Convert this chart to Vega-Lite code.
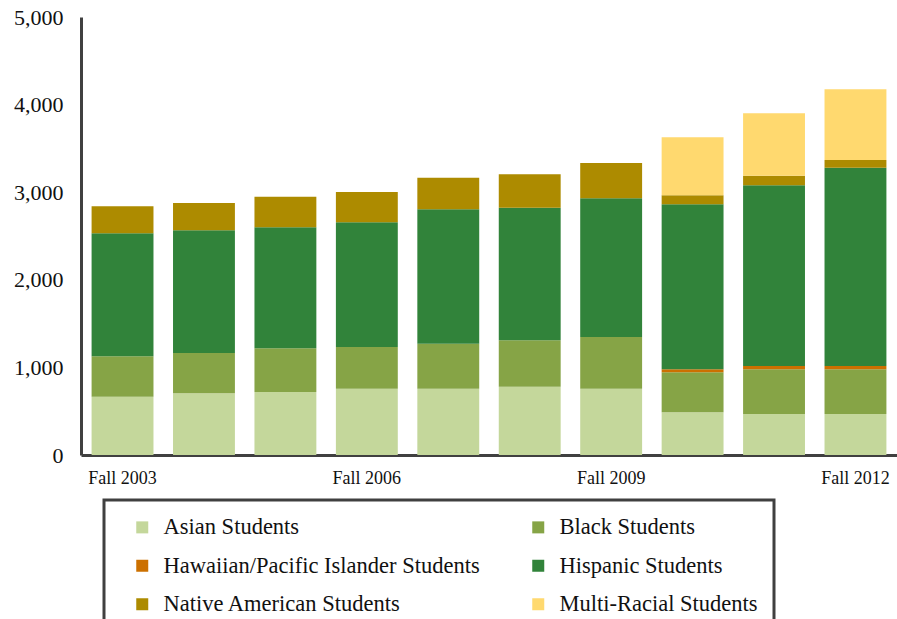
{
  "$schema": "https://vega.github.io/schema/vega-lite/v6.json",
  "autosize": {"type": "none"},
  "padding": {"left": 81, "top": 17, "right": 0, "bottom": 164},
  "width": 816,
  "height": 438,
  "background": "#ffffff",
  "config": {
    "view": {"stroke": null},
    "font": "Liberation Serif"
  },
  "data": {
    "values": [
      {"year": "Fall 2003", "group": "Asian Students", "students": 665},
      {"year": "Fall 2003", "group": "Black Students", "students": 462},
      {"year": "Fall 2003", "group": "Hispanic Students", "students": 1404},
      {"year": "Fall 2003", "group": "Native American Students", "students": 308},
      {"year": "Fall 2004", "group": "Asian Students", "students": 704},
      {"year": "Fall 2004", "group": "Black Students", "students": 460},
      {"year": "Fall 2004", "group": "Hispanic Students", "students": 1401},
      {"year": "Fall 2004", "group": "Native American Students", "students": 312},
      {"year": "Fall 2005", "group": "Asian Students", "students": 719},
      {"year": "Fall 2005", "group": "Black Students", "students": 499},
      {"year": "Fall 2005", "group": "Hispanic Students", "students": 1381},
      {"year": "Fall 2005", "group": "Native American Students", "students": 350},
      {"year": "Fall 2006", "group": "Asian Students", "students": 757},
      {"year": "Fall 2006", "group": "Black Students", "students": 476},
      {"year": "Fall 2006", "group": "Hispanic Students", "students": 1423},
      {"year": "Fall 2006", "group": "Native American Students", "students": 346},
      {"year": "Fall 2007", "group": "Asian Students", "students": 757},
      {"year": "Fall 2007", "group": "Black Students", "students": 514},
      {"year": "Fall 2007", "group": "Hispanic Students", "students": 1534},
      {"year": "Fall 2007", "group": "Native American Students", "students": 361},
      {"year": "Fall 2008", "group": "Asian Students", "students": 780},
      {"year": "Fall 2008", "group": "Black Students", "students": 529},
      {"year": "Fall 2008", "group": "Hispanic Students", "students": 1514},
      {"year": "Fall 2008", "group": "Native American Students", "students": 381},
      {"year": "Fall 2009", "group": "Asian Students", "students": 757},
      {"year": "Fall 2009", "group": "Black Students", "students": 590},
      {"year": "Fall 2009", "group": "Hispanic Students", "students": 1583},
      {"year": "Fall 2009", "group": "Native American Students", "students": 403},
      {"year": "Fall 2010", "group": "Asian Students", "students": 487},
      {"year": "Fall 2010", "group": "Black Students", "students": 457},
      {"year": "Fall 2010", "group": "Hawaiian/Pacific Islander Students", "students": 34},
      {"year": "Fall 2010", "group": "Hispanic Students", "students": 1884},
      {"year": "Fall 2010", "group": "Native American Students", "students": 102},
      {"year": "Fall 2010", "group": "Multi-Racial Students", "students": 662},
      {"year": "Fall 2011", "group": "Asian Students", "students": 468},
      {"year": "Fall 2011", "group": "Black Students", "students": 510},
      {"year": "Fall 2011", "group": "Hawaiian/Pacific Islander Students", "students": 38},
      {"year": "Fall 2011", "group": "Hispanic Students", "students": 2062},
      {"year": "Fall 2011", "group": "Native American Students", "students": 111},
      {"year": "Fall 2011", "group": "Multi-Racial Students", "students": 711},
      {"year": "Fall 2012", "group": "Asian Students", "students": 468},
      {"year": "Fall 2012", "group": "Black Students", "students": 510},
      {"year": "Fall 2012", "group": "Hawaiian/Pacific Islander Students", "students": 38},
      {"year": "Fall 2012", "group": "Hispanic Students", "students": 2264},
      {"year": "Fall 2012", "group": "Native American Students", "students": 88},
      {"year": "Fall 2012", "group": "Multi-Racial Students", "students": 807}
    ]
  },
  "transform": [
    {"calculate": "indexof(['Asian Students','Black Students','Hawaiian/Pacific Islander Students','Hispanic Students','Native American Students','Multi-Racial Students'], datum.group)", "as": "stackOrder"}
  ],
  "mark": {"type": "bar"},
  "encoding": {
    "x": {
      "field": "year",
      "type": "nominal",
      "sort": null,
      "scale": {"paddingInner": 0.24, "paddingOuter": 0.13},
      "axis": {
        "title": null,
        "labelAngle": 0,
        "ticks": false,
        "domainColor": "#404040",
        "domainWidth": 3,
        "labelFont": "Liberation Serif",
        "labelFontSize": 18,
        "labelColor": "#111111",
        "labelPadding": 14,
        "labelExpr": "indexof(['Fall 2003','Fall 2006','Fall 2009','Fall 2012'], datum.value) >= 0 ? datum.value : ''"
      }
    },
    "y": {
      "field": "students",
      "type": "quantitative",
      "aggregate": "sum",
      "stack": "zero",
      "scale": {"domain": [0, 5000], "nice": false},
      "axis": {
        "title": null,
        "values": [0, 1000, 2000, 3000, 4000, 5000],
        "format": ",.0f",
        "grid": false,
        "ticks": false,
        "domainColor": "#404040",
        "domainWidth": 3,
        "labelFont": "Liberation Serif",
        "labelFontSize": 22,
        "labelColor": "#111111",
        "labelPadding": 18
      }
    },
    "order": {"field": "stackOrder", "type": "quantitative", "aggregate": "min", "sort": "ascending"},
    "color": {
      "field": "group",
      "type": "nominal",
      "scale": {
        "domain": ["Asian Students", "Hawaiian/Pacific Islander Students", "Native American Students", "Black Students", "Hispanic Students", "Multi-Racial Students"],
        "range": ["#c4d79b", "#cc7000", "#ad8b00", "#86a446", "#31833a", "#ffd96f"]
      },
      "legend": {
        "title": null,
        "orient": "none",
        "legendX": 23,
        "legendY": 483,
        "columns": 2,
        "gridAlign": "each",
        "columnPadding": 36,
        "rowPadding": 15.5,
        "padding": 16,
        "strokeColor": "#404040",
        "symbolType": "square",
        "symbolSize": 144,
        "symbolStrokeWidth": 0,
        "symbolOffset": 11,
        "labelOffset": 10,
        "labelFont": "Liberation Serif",
        "labelFontSize": 22.5,
        "labelColor": "#111111",
        "labelLimit": 400,
        "encode": {
          "legend": {"update": {"strokeWidth": {"value": 3}}}
        }
      }
    }
  }
}
